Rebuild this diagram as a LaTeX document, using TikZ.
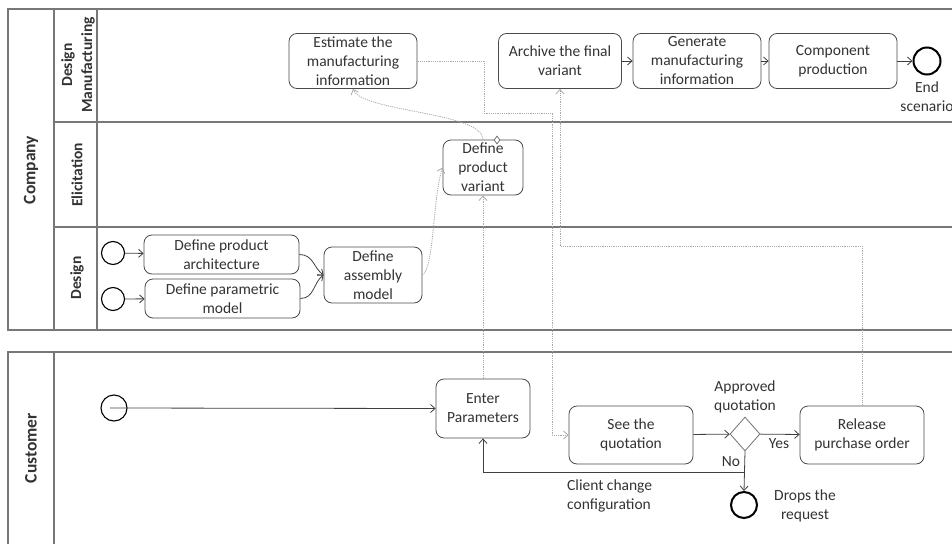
\documentclass[tikz,border=0pt]{standalone}
\usepackage{fontspec}
\setmainfont{Carlito}
\usetikzlibrary{arrows.meta,shapes.geometric}
\definecolor{ink}{HTML}{333333}
\definecolor{pool}{HTML}{777777}
\definecolor{boxline}{HTML}{4A4A4A}
\definecolor{msgline}{HTML}{AAAAAA}
\begin{document}
\begin{tikzpicture}[x=1pt,y=-1pt,
  txt/.style={font=\fontsize{15.5}{19}\selectfont, text=ink, align=center, inner sep=0pt},
  task/.style={txt, draw=boxline, line width=0.8pt, rounded corners=8pt, fill=white},
  startev/.style={circle, draw=black, line width=1.1pt, inner sep=0pt},
  endev/.style={circle, draw=black, line width=2pt, inner sep=0pt},
  gateway/.style={diamond, draw=black!55, line width=0.8pt, fill=white, inner sep=0pt, minimum width=30pt, minimum height=34pt},
  flow/.style={draw=black!75, line width=0.8pt, -{Straight Barb[length=4.5pt,width=8pt]}},
  msg/.style={draw=msgline, line width=0.8pt, dash pattern=on 1.2pt off 1pt, -{Straight Barb[length=4.5pt,width=8pt]}},
  poolline/.style={draw=pool, line width=1.2pt},
  poolname/.style={font=\fontsize{17.5}{20}\selectfont\bfseries, text=ink, rotate=90, align=center, inner sep=0pt},
  lanename/.style={font=\fontsize{15.5}{19}\selectfont\bfseries, text=ink, rotate=90, align=center, inner sep=0pt}]

\useasboundingbox (0,0) rectangle (952,543);
\clip (0,0) rectangle (952,543);

% ---- pools and lanes
\draw[poolline] (8,9) rectangle (975,330);
\draw[poolline] (54,9) -- (54,330);
\draw[poolline] (97,9) -- (97,330);
\draw[poolline] (54,122) -- (975,122);
\draw[poolline] (54,227) -- (975,227);
\draw[poolline] (8,560) -- (8,352) -- (975,352);
\draw[poolline] (54,352) -- (54,560);

\node[poolname] (company) at (31,170) {Company};
\node[poolname] (customer) at (31,448) {Customer};
\node[lanename, font=\fontsize{15.5}{20}\selectfont\bfseries] (laneDM) at (78,65) {Design\\Manufacturing};
\node[lanename] (laneEl) at (77,175) {Elicitation};
\node[lanename] (laneDe) at (77,278) {Design};

% ---- design / manufacturing lane
\node[task, minimum width=128pt, minimum height=55pt] (est) at (353,61) {Estimate the\\manufacturing\\information};
\node[task, minimum width=123pt, minimum height=55pt] (arch) at (560,61) {Archive the final\\variant};
\node[task, minimum width=128pt, minimum height=55pt] (gen) at (697,61) {Generate\\manufacturing\\information};
\node[task, minimum width=128pt, minimum height=55pt] (comp) at (833,61) {Component\\production};
\node[endev, minimum size=27pt] (endA) at (927,61) {};
\node[txt] (endAlbl) at (927,97) {End\\scenario};

% ---- elicitation lane
\node[task, minimum width=80pt, minimum height=55pt] (var) at (483,167.5) {Define\\product\\variant};
\node[diamond, draw=black!60, fill=white, line width=0.7pt, inner sep=0pt, minimum width=6pt, minimum height=8pt] (varmark) at (497,140) {};

% ---- design lane
\node[startev, minimum size=23pt] (s1) at (113,253) {};
\node[startev, minimum size=23pt] (s2) at (113,299) {};
\node[task, minimum width=155pt, minimum height=39pt] (parch) at (221.5,254.5) {Define product\\architecture};
\node[task, minimum width=155pt, minimum height=39pt] (ppar) at (222.5,298.5) {Define parametric\\model};
\node[task, minimum width=98pt, minimum height=56pt] (asm) at (373,275) {Define\\assembly\\model};

% ---- customer pool
\node[startev, minimum size=26pt] (cs) at (114,408) {};
\node[task, minimum width=94pt, minimum height=59pt] (enter) at (483,408.5) {Enter\\Parameters};
\node[task, minimum width=124pt, minimum height=58pt] (seeq) at (631,435) {See the\\quotation};
\node[gateway] (gw) at (745,434) {};
\node[task, minimum width=124pt, minimum height=58pt] (rel) at (862,435) {Release\\purchase order};
\node[endev, minimum size=26pt] (drop) at (744,505) {};

\node[txt] (gwlbl) at (745,397) {Approved\\quotation};
\node[txt] (yes) at (779,444) {Yes};
\node[txt] (no) at (731,462) {No};
\node[txt] (droplbl) at (805,506) {Drops the\\request};
\node[txt, align=left, anchor=west] (changelbl) at (567,496) {Client change\\configuration};

% ---- sequence flows
\draw[flow] (s1) -- (parch);
\draw[flow] (s2) -- (ppar);
\draw[flow] (parch.east) .. controls +(14,0) and +(-10,-7) .. (asm.west);
\draw[flow] (ppar.east) .. controls +(14,0) and +(-10,7) .. (asm.west);
\draw[flow] (arch) -- (gen);
\draw[flow] (gen) -- (comp);
\draw[flow] (comp) -- (endA);
\draw[flow] ([xshift=-4pt]cs.center) -- (enter.west);
\draw[flow] (seeq) -- (gw);
\draw[flow] (gw) -- (rel);
\draw[flow] (gw.south) -- (drop.north);
\coordinate (nojoin) at (745,472);
\draw[flow] (nojoin) -| (enter.south);

% ---- message / data flows
\coordinate (m1a) at (484,113);
\coordinate (m1b) at (552,435);
\draw[msg] (est.east) -| (m1a) -| (m1b) -- (seeq.west);
\coordinate (m2) at (560,246);
\draw[msg] (rel.north) |- (m2) -- (arch.south);
\draw[msg] (enter.north) -- (var.south);
\draw[msg] (asm.east) .. controls +(12,-8) and +(-10,30) .. (var.west);
\draw[msg] (var.north) .. controls (483,112) and (362,112) .. (est.south);

\end{tikzpicture}
\end{document}
